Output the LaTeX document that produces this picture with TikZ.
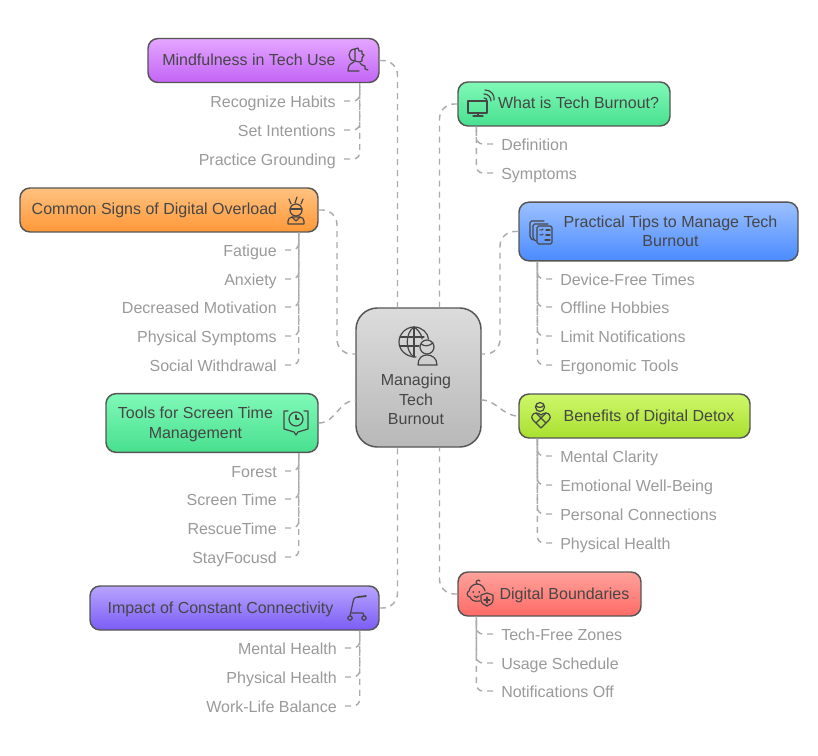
\documentclass[tikz,border=0pt]{standalone}
\usepackage{fontspec}
\setmainfont{Liberation Sans}
\usepackage{color}
\definecolor{linkgray}{HTML}{ABABAB}
\definecolor{leafgray}{HTML}{9A9A9A}
\definecolor{inkgray}{HTML}{464646}
\definecolor{edgegray}{HTML}{555555}
\tikzset{
box/.style={draw=edgegray,line width=1.1pt,rounded corners=7.5pt,minimum height=33pt,inner sep=0pt,text=inkgray,text height=8.5pt,text depth=1pt,font=\fontsize{12}{14.6}\selectfont},
tallbox/.style={box,minimum height=44pt,text height=14pt,text depth=5.6pt},
leaf/.style={text=leafgray,inner xsep=6pt,inner ysep=0pt,text height=12pt,text depth=2.5pt,font=\fontsize{12}{14.6}\selectfont},
link/.style={draw=linkgray,line width=1.1pt,dash pattern=on 4.5pt off 3.75pt},
bough/.style={link,rounded corners=11pt},
twig/.style={link,rounded corners=5pt},
glyph/.style={draw=inkgray,line width=0.9pt,line cap=round,line join=round}
}
\definecolor{mindtop}{HTML}{E4A6FF}\definecolor{mindbot}{HTML}{C264F5}
\definecolor{mintop}{HTML}{80F9B8}\definecolor{minbot}{HTML}{48E08F}
\definecolor{practop}{HTML}{9CC0FF}\definecolor{pracbot}{HTML}{4A8BFF}
\definecolor{signtop}{HTML}{FFC280}\definecolor{signbot}{HTML}{FF9838}
\definecolor{dtoxtop}{HTML}{CEF76A}\definecolor{dtoxbot}{HTML}{A9E030}
\definecolor{bordtop}{HTML}{FFA19B}\definecolor{bordbot}{HTML}{FF6B66}
\definecolor{conntop}{HTML}{B8A4FF}\definecolor{connbot}{HTML}{7B5CF5}
\definecolor{roottop}{HTML}{DCDCDC}\definecolor{rootbot}{HTML}{B8B8B8}
\newcommand{\twolines}[2]{\begin{tabular}{@{}c@{}}#1\\#2\end{tabular}}
\begin{document}
\begin{tikzpicture}[x=0.75pt,y=-0.75pt]
\path[use as bounding box,fill=white] (0,0) rectangle (818,756);
\node[box,minimum width=173.25pt,top color=mindtop,bottom color=mindbot] (mind) at (263.5,60.5) {Mindfulness in Tech Use\hspace*{21.8pt}};
\node[box,minimum width=159pt,top color=mintop,bottom color=minbot] (what) at (564,104) {\hspace*{21.8pt}What is Tech Burnout?};
\node[tallbox,minimum width=209.25pt,top color=practop,bottom color=pracbot] (prac) at (658.5,231.5) {\hspace*{18pt}\twolines{Practical Tips to Manage Tech}{Burnout}};
\node[box,minimum width=223.5pt,top color=signtop,bottom color=signbot] (sign) at (169,210) {Common Signs of Digital Overload\hspace*{21.8pt}};
\node[tallbox,minimum width=159pt,top color=mintop,bottom color=minbot] (tool) at (212,423) {\twolines{Tools for Screen Time}{Management}\hspace*{24.8pt}};
\node[box,minimum width=173.25pt,top color=dtoxtop,bottom color=dtoxbot] (dtox) at (634.5,416) {\hspace*{21.8pt}Benefits of Digital Detox};
\node[box,minimum width=137.25pt,top color=bordtop,bottom color=bordbot] (bord) at (549.5,594) {\hspace*{22.5pt}Digital Boundaries};
\node[box,minimum width=216.75pt,top color=conntop,bottom color=connbot] (conn) at (234.5,608) {Impact of Constant Connectivity\hspace*{21pt}};
\node[box,minimum width=93.75pt,minimum height=104.25pt,rounded corners=16pt,text height=0pt,text depth=0pt,top color=roottop,bottom color=rootbot] (root) at (418.5,377.5) {\raisebox{-20.75pt}[0pt][0pt]{\begin{tabular}{@{}c@{}}Managing\\Tech\\Burnout\end{tabular}\hspace*{3.75pt}}};
\draw[bough] (mind.east) -| ([xshift=-15.75pt]root.north);
\draw[bough] (what.west) -| ([xshift=15.75pt]root.north);
\draw[bough] (conn.east) -| ([xshift=-15.75pt]root.south);
\draw[bough] (bord.west) -| ([xshift=15.75pt]root.south);
\coordinate (signbend) at (337,354);
\coordinate (pracbend) at (500,354);
\coordinate (rootsw) at (root.west |- signbend);
\coordinate (rootse) at (root.east |- pracbend);
\draw[bough] (sign.east) -| (signbend) -- (rootsw);
\draw[bough] (prac.west) -| (pracbend) -- (rootse);
\coordinate (rootlo) at (356,400);
\coordinate (rootro) at (481,400);
\draw[link] (tool.east) to[out=0,in=180] (rootlo);
\draw[link] (rootro) to[out=0,in=180] (dtox.west);
\foreach \leafname/\leafy/\leaftext in {mindA/101/Recognize Habits,mindB/130/Set Intentions,mindC/159/Practice Grounding}{
\node[leaf,anchor=east] (\leafname) at (344,\leafy) {\leaftext};
\draw[twig] (\leafname.east) -| ([xshift=-15pt]mind.south east);
}
\foreach \leafname/\leafy/\leaftext in {signA/250/Fatigue,signB/279/Anxiety,signC/307/Decreased Motivation,signD/336/Physical Symptoms,signE/365/Social Withdrawal}{
\node[leaf,anchor=east] (\leafname) at (285,\leafy) {\leaftext};
\draw[twig] (\leafname.east) -| ([xshift=-15pt]sign.south east);
}
\foreach \leafname/\leafy/\leaftext in {toolA/471/Forest,toolB/499/Screen Time,toolC/528/RescueTime,toolD/557/StayFocusd}{
\node[leaf,anchor=east] (\leafname) at (285,\leafy) {\leaftext};
\draw[twig] (\leafname.east) -| ([xshift=-15pt]tool.south east);
}
\foreach \leafname/\leafy/\leaftext in {connA/648/Mental Health,connB/677/Physical Health,connC/706/Work-Life Balance}{
\node[leaf,anchor=east] (\leafname) at (345,\leafy) {\leaftext};
\draw[twig] (\leafname.east) -| ([xshift=-15pt]conn.south east);
}
\foreach \leafname/\leafy/\leaftext in {whatA/144/Definition,whatB/173/Symptoms}{
\node[leaf,anchor=west] (\leafname) at (493,\leafy) {\leaftext};
\draw[twig] (\leafname.west) -| ([xshift=14.25pt]what.south west);
}
\foreach \leafname/\leafy/\leaftext in {pracA/279/Device-Free Times,pracB/307/Offline Hobbies,pracC/336/Limit Notifications,pracD/365/Ergonomic Tools}{
\node[leaf,anchor=west] (\leafname) at (552,\leafy) {\leaftext};
\draw[twig] (\leafname.west) -| ([xshift=14.25pt]prac.south west);
}
\foreach \leafname/\leafy/\leaftext in {dtoxA/456/Mental Clarity,dtoxB/485/Emotional Well-Being,dtoxC/514/Personal Connections,dtoxD/543/Physical Health}{
\node[leaf,anchor=west] (\leafname) at (552,\leafy) {\leaftext};
\draw[twig] (\leafname.west) -| ([xshift=14.25pt]dtox.south west);
}
\foreach \leafname/\leafy/\leaftext in {bordA/634/Tech-Free Zones,bordB/663/Usage Schedule,bordC/691/Notifications Off}{
\node[leaf,anchor=west] (\leafname) at (493,\leafy) {\leaftext};
\draw[twig] (\leafname.west) -| ([xshift=14.25pt]bord.south west);
}
\begin{scope}[shift={(357,60)},glyph]
\draw (-2,-11) .. controls (-10,-11) and (-10,1) .. (-2,1) -- cycle;
\draw (-2,-11) -- (1,-12) -- (2,-9) -- (5,-9) -- (5,-6) -- (7,-5) -- (5,-2) -- (5,1) -- (2,2) -- (-2,1);
\draw (-3,2) .. controls (-8,4) and (-9,7) .. (-9,11) -- (2,11);
\draw (3,3) -- (5,5) -- (8,6) -- (8,9) -- (11,10);
\end{scope}
\begin{scope}[shift={(478,107)},glyph]
\draw (-10,-6) rectangle (9,6);
\draw (0,6) -- (0,9);
\draw (-5,9) -- (5,9);
\draw (6,-9) .. controls (8,-9) and (9,-8) .. (9,-6);
\draw (6,-13) .. controls (10,-13) and (13,-10) .. (13,-6);
\draw (7,-17) .. controls (13,-17) and (17,-12) .. (16,-7);
\end{scope}
\begin{scope}[shift={(541,231)},glyph,rounded corners=1.2pt]
\draw (-8,9) -- (-11,7) -- (-11,-10) -- (3,-10);
\draw (-5,10) -- (-8,8) -- (-8,-7) -- (7,-7);
\draw (-4,-5) rectangle (11,13);
\draw (-1,-1) -- (0,0) -- (2,-2);
\draw (5,-1) -- (9,-1);
\draw (-1,4) -- (0,5) -- (2,3);
\draw (5,4) -- (9,4);
\draw (4,9) -- (9,9);
\end{scope}
\begin{scope}[shift={(296,209)},glyph]
\draw (0,1) circle (6);
\draw (-6,0) -- (6,0);
\draw (-8,15) -- (-8,12) .. controls (-8,10) and (-6,8) .. (-4,8) -- (4,8) .. controls (6,8) and (8,10) .. (8,12) -- (8,15) -- cycle;
\draw (-4,8) -- (0,12) -- (4,8);
\draw (-7,-10) -- (-5,-5);
\draw (1,-12) -- (-1,-6);
\draw (7,-10) -- (5,-5);
\end{scope}
\begin{scope}[shift={(296,423)},glyph]
\draw (0,-4) circle (7);
\draw (0,-8) -- (0,-4) -- (3,-4);
\draw (-8,-12) -- (-12,-12) -- (-12,6) -- (-2,9) -- (0,12) -- (2,9) -- (12,6) -- (12,-12) -- (8,-12);
\end{scope}
\begin{scope}[shift={(541,416)},glyph]
\draw (-1,-9) circle (4.5);
\draw (-5,-10) .. controls (-2,-8) and (1,-8) .. (3,-11);
\draw (0,12) -- (-8,4) .. controls (-11,1) and (-8,-3) .. (-5,-3) .. controls (-3,-3) and (-1,-2) .. (0,-1) .. controls (1,-2) and (3,-3) .. (5,-3) .. controls (8,-3) and (11,1) .. (8,4) -- cycle;
\draw (-5,-3) -- (5,7);
\draw (5,-3) -- (-5,7);
\end{scope}
\begin{scope}[shift={(477,592)},glyph]
\draw (3,9) .. controls (-3,10) and (-6,8) .. (-7,5) .. controls (-10,5) and (-11,0) .. (-8,-1) .. controls (-7,-6) and (-3,-8) .. (0,-8) .. controls (4,-8) and (7,-5) .. (8,-1);
\draw (0,-8) .. controls (-3,-11) and (2,-13) .. (3,-11);
\draw (-4,0) -- (-3.5,0);
\draw (2,0) -- (2.5,0);
\draw (-3,4) .. controls (-1,6) and (0,6) .. (2,4);
\draw (4,3) -- (10,1) -- (16,3) -- (16,8) .. controls (16,11) and (13,13) .. (10,14) .. controls (7,13) and (4,11) .. (4,8) -- cycle;
\draw (10,5) -- (10,11);
\draw (7,8) -- (13,8);
\end{scope}
\begin{scope}[shift={(357,607)},glyph]
\draw[line width=1.3pt] (9,-11) -- (1,-10);
\draw (1,-10) .. controls (-3,-10) and (-4,-7) .. (-4,-5) -- (-7,9);
\draw (-5.5,6) -- (6,6) -- (7,9);
\draw (-7,11) circle (2.2);
\draw (7,11) circle (2.2);
\end{scope}
\begin{scope}[shift={(414,342)},glyph]
\draw (2,15) .. controls (-8,15) and (-15,8) .. (-15,0) .. controls (-15,-8) and (-8,-15) .. (0,-15) .. controls (8,-15) and (14,-9) .. (14.5,-3);
\draw (0,-15) -- (0,15);
\draw (0,-15) .. controls (-9,-9) and (-9,9) .. (0,15);
\draw (0,-15) .. controls (7,-10) and (8,-5) .. (8,-3);
\draw (-14,-5) -- (10,-5);
\draw (-14,4) -- (5,4);
\draw (13,5) circle (7);
\draw (7,2) .. controls (11,5) and (15,4) .. (19,1);
\draw (4,23) .. controls (4,16) and (8,13) .. (13,13) .. controls (18,13) and (23,16) .. (23,23) -- cycle;
\end{scope}
\end{tikzpicture}
\end{document}
